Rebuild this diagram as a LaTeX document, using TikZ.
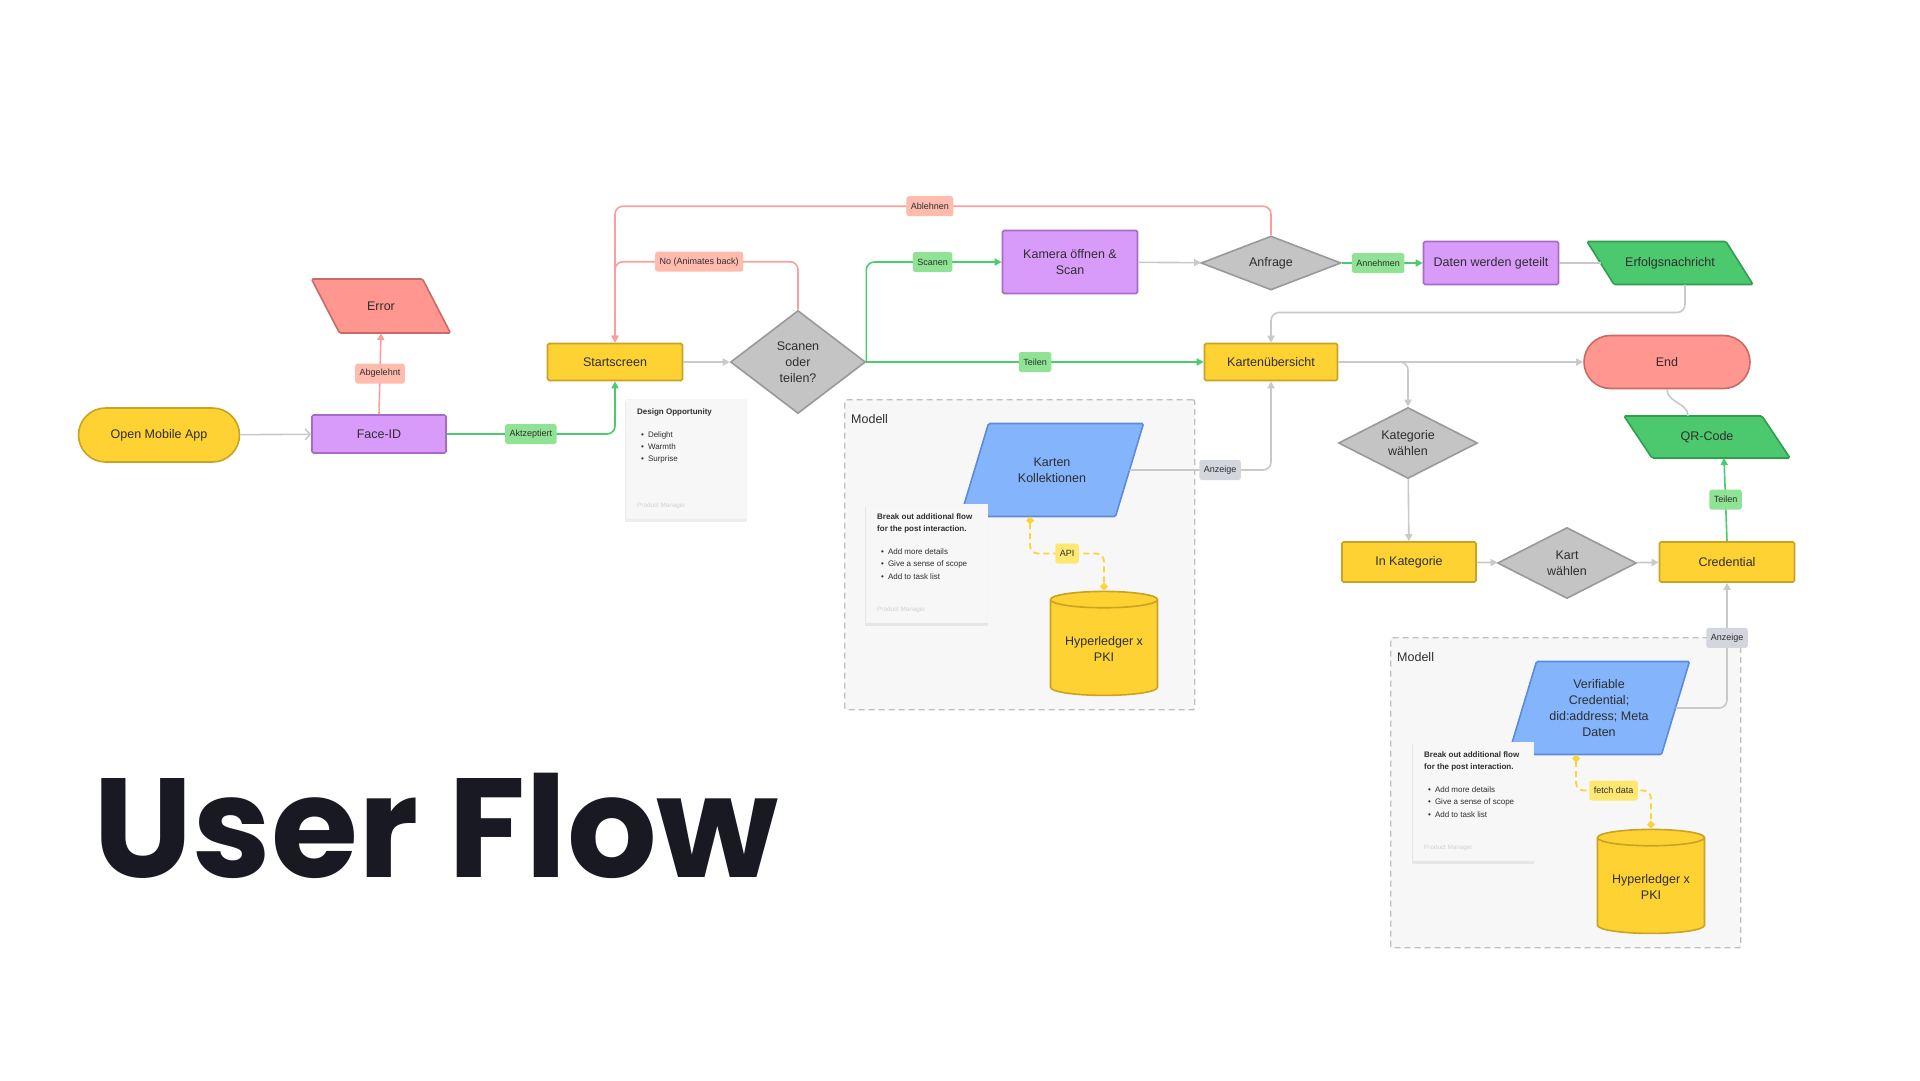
\documentclass[tikz,border=0pt]{standalone}
\usepackage{fontspec}
\setmainfont{Liberation Sans}
\newfontfamily\titlefont{Poppins}
\usetikzlibrary{arrows.meta, positioning, shapes.geometric, shapes.misc, shadows, backgrounds}
\definecolor{flowYellow}{HTML}{FDD232}
\definecolor{flowYellowDark}{HTML}{C9A324}
\definecolor{flowViolet}{HTML}{D99BFA}
\definecolor{flowVioletDark}{HTML}{A76BC6}
\definecolor{flowRed}{HTML}{FF9790}
\definecolor{flowRedDark}{HTML}{C86B66}
\definecolor{flowGrey}{HTML}{C4C4C4}
\definecolor{flowGreyDark}{HTML}{999999}
\definecolor{flowGreen}{HTML}{4CC96E}
\definecolor{flowGreenDark}{HTML}{2F9E4F}
\definecolor{flowBlue}{HTML}{83B4FC}
\definecolor{flowBlueDark}{HTML}{5C8BDA}
\definecolor{tagGreen}{HTML}{90E394}
\definecolor{tagRed}{HTML}{FFBBAE}
\definecolor{tagGrey}{HTML}{D3D6DD}
\definecolor{tagYellow}{HTML}{FFE872}
\definecolor{lineGrey}{HTML}{C9C9C9}
\definecolor{lineGreen}{HTML}{4CCB6E}
\definecolor{lineRed}{HTML}{F8A19C}
\definecolor{lineYellow}{HTML}{FAD43A}
\definecolor{inkDark}{HTML}{2E2E2E}
\definecolor{titleInk}{HTML}{191923}
\definecolor{paper}{HTML}{F7F7F7}

\begin{document}
\begin{tikzpicture}[x=1pt, y=-1pt,
    base/.style={draw, line width=1.6pt, align=center, inner sep=2pt,
                 font=\fontsize{12.5}{16}\selectfont\color{inkDark}},
    term/.style={base, rounded rectangle, fill=flowYellow, draw=flowYellowDark},
    proc/.style={base, rectangle, rounded corners=1.5pt, fill=flowYellow, draw=flowYellowDark},
    act/.style={proc, fill=flowViolet, draw=flowVioletDark},
    slant/.style={rectangle, align=center, inner sep=2pt, outer sep=0pt,
                  font=\fontsize{12.5}{16}\selectfont\color{inkDark}},
    redslant/.style={fill=flowRed, draw=flowRedDark, line width=1.6pt, rounded corners=1.5pt},
    greenslant/.style={redslant, fill=flowGreen, draw=flowGreenDark},
    blueslant/.style={redslant, fill=flowBlue, draw=flowBlueDark},
    decide/.style={base, diamond, fill=flowGrey, draw=flowGreyDark, inner sep=0pt},
    store/.style={base, cylinder, shape border rotate=90, aspect=0.2,
                  cylinder uses custom fill, cylinder body fill=flowYellow,
                  cylinder end fill=flowYellow, draw=flowYellowDark},
    group/.style={rectangle, anchor=north west, fill=paper, draw=black!25,
                  dash pattern=on 6pt off 4pt, line width=1.4pt, rounded corners=2pt},
    note/.style={rectangle, anchor=north west, fill=paper, draw=black!4, line width=.5pt,
                 drop shadow={shadow xshift=0pt, shadow yshift=-2.5pt, shadow scale=1.015, opacity=.14}},
    notetext/.style={anchor=north west, align=left, inner sep=0pt,
                     font=\fontsize{8}{12.3}\selectfont\color{inkDark}},
    pmtext/.style={anchor=south west, inner sep=0pt,
                   font=\fontsize{6.3}{7}\selectfont\color{black!18}},
    tag/.style={rectangle, rounded corners=2.5pt, inner sep=4.5pt, minimum height=20pt,
                font=\fontsize{9}{10}\selectfont\color{inkDark}},
    flow/.style={draw=lineGrey, line width=1.6pt, rounded corners=8pt,
                 -{Triangle[length=7pt, width=7pt]}},
    okflow/.style={flow, draw=lineGreen, -{Triangle[length=7pt, width=7pt]}},
    noflow/.style={flow, draw=lineRed, -{Triangle[length=7pt, width=7pt]}},
    plain/.style={draw=lineGrey, line width=1.6pt, rounded corners=8pt},
    link/.style={draw=lineYellow, line width=1.8pt, dash pattern=on 6pt off 4pt,
                 rounded corners=8pt, {Diamond[length=8pt, width=8pt]}-{Diamond[length=8pt, width=8pt]}},
  ]
  % page and model groups
  \begin{scope}[on background layer]
    \fill[white] (0,0) rectangle (1920,1080);
    \node[group, minimum width=350, minimum height=310] (mod1) at (844,399) {};
    \node[group, minimum width=350, minimum height=310] (mod2) at (1390,637) {};
  \end{scope}
  \useasboundingbox (0,0) rectangle (1920,1080);
  \node[anchor=west, inner sep=0pt, font=\fontsize{12.5}{15}\selectfont\color{inkDark}]
    (mod1lbl) at ([shift={(7,20)}]mod1.north west) {Modell};
  \node[anchor=west, inner sep=0pt, font=\fontsize{12.5}{15}\selectfont\color{inkDark}]
    (mod2lbl) at ([shift={(7,20)}]mod2.north west) {Modell};

  % main flow
  \node[term, minimum width=165, minimum height=54] (oma) at (159,435) {Open Mobile App};
  \node[act, minimum width=134, minimum height=38] (face) at (379,434) {Face-ID};
  \node[slant, minimum width=111, minimum height=54] (err) at (381,306) {Error};
  \node[proc, minimum width=135, minimum height=37] (start) at (615,362) {Startscreen};
  \node[decide, aspect=1.3, minimum width=135, minimum height=103] (sot) at (798,362) {Scanen\\oder\\teilen?};
  \node[act, minimum width=135, minimum height=63] (kam) at (1070,262) {Kamera öffnen \&\\Scan};
  \node[decide, aspect=2.6, minimum width=140, minimum height=54] (anf) at (1271,263) {Anfrage};
  \node[act, minimum width=135, minimum height=43] (daten) at (1491,263) {Daten werden geteilt};
  \node[slant, minimum width=139, minimum height=43] (erf) at (1670,263) {Erfolgsnachricht};
  \node[proc, minimum width=133, minimum height=37] (kue) at (1271,362) {Kartenübersicht};
  \node[term, fill=flowRed, draw=flowRedDark, minimum width=170, minimum height=53] (end) at (1667,362) {End};
  \node[decide, aspect=2, minimum width=139, minimum height=71] (katw) at (1408,443) {Kategorie\\wählen};
  \node[proc, minimum width=134, minimum height=40] (inkat) at (1409,562) {In Kategorie};
  \node[decide, aspect=2, minimum width=139, minimum height=71] (kartw) at (1567,563) {Kart\\wählen};
  \node[proc, minimum width=135, minimum height=40] (cred) at (1727,562) {Credential};
  \node[slant, minimum width=138, minimum height=42] (qr) at (1707,437) {QR-Code};

  % model contents
  \node[slant, minimum width=155, minimum height=93] (kk) at (1052,470) {Karten\\Kollektionen};
  \node[store, minimum width=107, minimum height=104] (db1) at (1104,649) {Hyperledger x\\PKI};
  \node[slant, minimum width=153, minimum height=93] (vc) at (1599,708) {Verifiable\\Credential;\\did:address; Meta\\Daten};
  \node[store, minimum width=107, minimum height=104] (db2) at (1651,887) {Hyperledger x\\PKI};

  % slanted outlines behind their text
  \begin{scope}[on background layer]
    \draw[redslant] ([xshift=-14pt]err.north west) -- ([xshift=-14pt]err.north east)
      -- ([xshift=14pt]err.south east) -- ([xshift=14pt]err.south west) -- cycle;
    \draw[greenslant] ([xshift=-13.5pt]erf.north west) -- ([xshift=-13.5pt]erf.north east)
      -- ([xshift=13.5pt]erf.south east) -- ([xshift=13.5pt]erf.south west) -- cycle;
    \draw[greenslant] ([xshift=-14pt]qr.north west) -- ([xshift=-14pt]qr.north east)
      -- ([xshift=14pt]qr.south east) -- ([xshift=14pt]qr.south west) -- cycle;
    \draw[blueslant] ([xshift=14pt]kk.north west) -- ([xshift=14pt]kk.north east)
      -- ([xshift=-14pt]kk.south east) -- ([xshift=-14pt]kk.south west) -- cycle;
    \draw[blueslant] ([xshift=14pt]vc.north west) -- ([xshift=14pt]vc.north east)
      -- ([xshift=-14pt]vc.south east) -- ([xshift=-14pt]vc.south west) -- cycle;
  \end{scope}

  % notes
  \node[note, minimum width=120, minimum height=119] (dnote) at (626,399) {};
  \node[notetext] (dnotetxt) at ([shift={(11,9)}]dnote.north west)
    {\textbf{Design Opportunity}\\[11pt]
     \hspace*{4pt}\textbullet\hspace{4pt}Delight\\
     \hspace*{4pt}\textbullet\hspace{4pt}Warmth\\
     \hspace*{4pt}\textbullet\hspace{4pt}Surprise};
  \node[pmtext] (dnotepm) at ([shift={(11,-10)}]dnote.south west) {Product Manager};

  \node[note, minimum width=121, minimum height=118] (bnote) at (866,504) {};
  \node[notetext] (bnotetxt) at ([shift={(11,9)}]bnote.north west)
    {\textbf{Break out additional flow}\\
     \textbf{for the post interaction.}\\[11pt]
     \hspace*{4pt}\textbullet\hspace{4pt}Add more details\\
     \hspace*{4pt}\textbullet\hspace{4pt}Give a sense of scope\\
     \hspace*{4pt}\textbullet\hspace{4pt}Add to task list};
  \node[pmtext] (bnotepm) at ([shift={(11,-10)}]bnote.south west) {Product Manager};

  \node[note, minimum width=120, minimum height=118] (cnote) at (1413,742) {};
  \node[notetext] (cnotetxt) at ([shift={(11,9)}]cnote.north west)
    {\textbf{Break out additional flow}\\
     \textbf{for the post interaction.}\\[11pt]
     \hspace*{4pt}\textbullet\hspace{4pt}Add more details\\
     \hspace*{4pt}\textbullet\hspace{4pt}Give a sense of scope\\
     \hspace*{4pt}\textbullet\hspace{4pt}Add to task list};
  \node[pmtext] (cnotepm) at ([shift={(11,-10)}]cnote.south west) {Product Manager};

  % title
  \node[anchor=base west, inner sep=0pt, text=titleInk,
        font=\titlefont\bfseries\fontsize{141}{150}\selectfont] (title) at (93,877) {User Flow};

  % connectors
  \draw[flow, -{Straight Barb[length=5pt, width=11pt]}] (oma) -- (face);
  \draw[noflow] (face.north) -- node[tag, fill=tagRed] {Abgelehnt} (err.south);
  \draw[okflow] (face.east) -| node[tag, fill=tagGreen, pos=.25] {Aktzeptiert} (start.south);
  \draw[flow] (start) -- (sot);
  \draw[noflow] (sot.north) -- ++(0,-48) -| node[tag, fill=tagRed, pos=.27] {No (Animates back)} (start.north);
  \draw[noflow] (anf.north) -- ++(0,-29) -| node[tag, fill=tagRed, pos=.26] {Ablehnen} (start.north);
  \draw[okflow] (sot.east) |- node[tag, fill=tagGreen, pos=.745] {Scanen} (kam.west);
  \draw[okflow] (sot.east) -- node[tag, fill=tagGreen] {Teilen} (kue.west);
  \draw[flow] (kam) -- (anf);
  \draw[okflow] (anf) -- node[tag, fill=tagGreen, pos=.45] {Annehmen} (daten);
  \draw[plain] (daten) -- (erf);
  \draw[flow] ([xshift=15pt]erf.south) -- ++(0,28) -| (kue.north);
  \draw[flow] (kue) -- (end);
  \draw[flow] (kue.east) -| (katw.north);
  \draw[flow] (katw) -- (inkat);
  \draw[flow] (inkat) -- (kartw);
  \draw[flow] (kartw) -- (cred);
  \draw[okflow] (cred.north) -- node[tag, fill=tagGreen] {Teilen} ([xshift=17pt]qr.south);
  \draw[plain] (end.south) to[out=-90, in=90] ([xshift=-19pt]qr.north);
  \draw[flow] (kk.east) -| node[tag, fill=tagGrey, pos=.32] {Anzeige} (kue.south);
  \draw[link] ([xshift=-22pt]kk.south) -- ++(0,37) -| node[tag, fill=tagYellow, pos=.25] {API} (db1.north);
  \draw[flow] (vc.east) -| node[tag, fill=tagGrey, pos=.78] {Anzeige} (cred.south);
  \draw[link] ([xshift=-23pt]vc.south) -- ++(0,36) -| node[tag, fill=tagYellow, pos=.25] {fetch data} (db2.north);
\end{tikzpicture}
\end{document}
